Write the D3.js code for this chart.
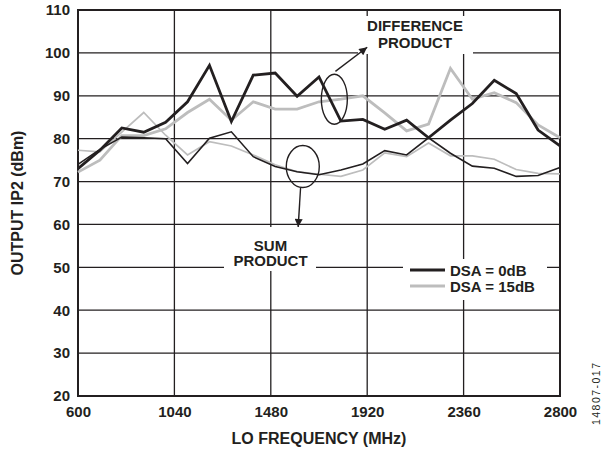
<!DOCTYPE html>
<html>
<head>
<meta charset="utf-8">
<script src="https://cdn.jsdelivr.net/npm/d3@7"></script>
<style>
  body { margin: 0; background: #fff; }
  svg text { font-family: "Liberation Sans", Arial, sans-serif; font-weight: bold; fill: #231f20; }
</style>
</head>
<body>
<svg id="chart"></svg>
<script>
// LO frequency (MHz), one point every 100 MHz
const freqs = [600, 700, 800, 900, 1000, 1100, 1200, 1300, 1400, 1500, 1600, 1700,
               1800, 1900, 2000, 2100, 2200, 2300, 2400, 2500, 2600, 2700, 2800];

// output IP2 (dBm)
const dsa0Diff  = [73, 77.3, 82.5, 81.5, 83.8, 88.6, 97.1, 84.0, 94.8, 95.3, 89.9, 94.4,
                   84.1, 84.5, 82.2, 84.3, 80.2, 84.3, 88.2, 93.6, 90.5, 82.0, 78.3];
const dsa0Sum   = [74, 77.5, 80.4, 80.2, 80.0, 74.2, 80.1, 81.6, 75.8, 73.5, 72.3, 71.6,
                   72.7, 74.1, 77.2, 76.2, 80.2, 76.6, 73.6, 73.1, 71.2, 71.4, 73.3];
const dsa15Diff = [72.2, 75, 80.7, 80.7, 82.3, 86.1, 89.2, 84.3, 88.6, 86.9, 86.9, 88.6,
                   89.2, 90.0, 86, 81.8, 83.4, 96.4, 89.2, 90.7, 88.4, 83.2, 80.2];
const dsa15Sum  = [77.3, 76.9, 81.5, 86.1, 80.8, 76.2, 79.3, 78.3, 76.2, 73.9, 72.3, 71.7,
                   71.2, 72.7, 76.7, 75.8, 79, 76, 76.0, 75.2, 72.8, 71.9, 71.8];

const xTicks = [600, 1040, 1480, 1920, 2360, 2800];
const yTicks = [20, 30, 40, 50, 60, 70, 80, 90, 100, 110];

const width = 603, height = 450;
const margin = { top: 10, right: 43, bottom: 54, left: 78 };
const black = "#231f20", gray = "#bdbdbd";

const svg = d3.select("#chart").attr("width", width).attr("height", height);

const x = d3.scaleLinear().domain([600, 2800]).range([margin.left, width - margin.right]);
const y = d3.scaleLinear().domain([20, 110]).range([height - margin.bottom, margin.top]);

// grid
svg.append("g")
   .selectAll("line.h")
   .data(yTicks.slice(1, -1))
   .join("line")
   .attr("x1", x(600)).attr("x2", x(2800))
   .attr("y1", d => y(d)).attr("y2", d => y(d))
   .attr("stroke", black).attr("stroke-width", 1.3);

svg.append("g")
   .selectAll("line.v")
   .data(xTicks.slice(1, -1))
   .join("line")
   .attr("x1", d => x(d)).attr("x2", d => x(d))
   .attr("y1", y(110)).attr("y2", y(20))
   .attr("stroke", black).attr("stroke-width", 1.3);

// white boxes behind the labels
const boxes = [
  { x: 358, y: 16, w: 115, h: 38 },   // difference product
  { x: 224, y: 227, w: 92, h: 44 },   // sum product
  { x: 403, y: 259, w: 144, h: 41 }   // legend
];
svg.append("g").selectAll("rect")
   .data(boxes)
   .join("rect")
   .attr("x", d => d.x).attr("y", d => d.y)
   .attr("width", d => d.w).attr("height", d => d.h)
   .attr("fill", "#fff");

// border
svg.append("rect")
   .attr("x", x(600)).attr("y", y(110))
   .attr("width", x(2800) - x(600)).attr("height", y(20) - y(110))
   .attr("fill", "none").attr("stroke", black).attr("stroke-width", 2);

// axes (labels only)
const xAxis = svg.append("g")
   .attr("transform", `translate(0, ${y(20)})`)
   .call(d3.axisBottom(x).tickValues(xTicks).tickFormat(d3.format("d")).tickSize(0).tickPadding(10));
xAxis.select(".domain").remove();
xAxis.selectAll("text").style("font-size", "15px").attr("fill", black);

const yAxis = svg.append("g")
   .attr("transform", `translate(${x(600)}, 0)`)
   .call(d3.axisLeft(y).tickValues(yTicks).tickFormat(d3.format("d")).tickSize(0).tickPadding(8));
yAxis.select(".domain").remove();
yAxis.selectAll("text").style("font-size", "15px").attr("fill", black);

// series
const line = d3.line().x((d, i) => x(freqs[i])).y(d => y(d));
const series = [
  { values: dsa15Sum,  color: gray,  w: 1.7 },
  { values: dsa15Diff, color: gray,  w: 2.8 },
  { values: dsa0Sum,   color: black, w: 1.6 },
  { values: dsa0Diff,  color: black, w: 2.8 }
];
svg.append("g").selectAll("path")
   .data(series)
   .join("path")
   .attr("d", d => line(d.values))
   .attr("fill", "none")
   .attr("stroke", d => d.color)
   .attr("stroke-width", d => d.w)
   .attr("stroke-linejoin", "miter");

// arrow marker
svg.append("defs").append("marker")
   .attr("id", "arrow")
   .attr("viewBox", "0 0 10 10")
   .attr("refX", 10).attr("refY", 5)
   .attr("markerWidth", 11).attr("markerHeight", 8)
   .attr("markerUnits", "userSpaceOnUse")
   .attr("orient", "auto")
   .append("path").attr("d", "M0,0 L10,5 L0,10 Z").attr("fill", black);

// difference product callout
svg.append("ellipse")
   .attr("cx", x(1770)).attr("cy", y(89.2)).attr("rx", 13).attr("ry", 25)
   .attr("fill", "none").attr("stroke", black).attr("stroke-width", 1.4);
svg.append("line")
   .attr("x1", x(1775)).attr("y1", y(95.7)).attr("x2", x(1920)).attr("y2", y(101.3))
   .attr("stroke", black).attr("stroke-width", 1.4).attr("marker-end", "url(#arrow)");

// sum product callout
svg.append("ellipse")
   .attr("cx", x(1626)).attr("cy", y(73.5)).attr("rx", 16.5).attr("ry", 21)
   .attr("fill", "none").attr("stroke", black).attr("stroke-width", 1.4);
svg.append("line")
   .attr("x1", x(1616)).attr("y1", y(68.6)).attr("x2", x(1605)).attr("y2", y(59.4))
   .attr("stroke", black).attr("stroke-width", 1.4).attr("marker-end", "url(#arrow)");

const callouts = [
  { text: "DIFFERENCE", x: 415, y: 31 },
  { text: "PRODUCT", x: 415, y: 48 },
  { text: "SUM", x: 270.5, y: 250.5 },
  { text: "PRODUCT", x: 270.5, y: 266 }
];
svg.append("g").selectAll("text")
   .data(callouts)
   .join("text")
   .attr("x", d => d.x).attr("y", d => d.y)
   .attr("text-anchor", "middle")
   .style("font-size", "15px")
   .text(d => d.text);

// legend
const legend = [
  { label: "DSA = 0dB", color: black },
  { label: "DSA = 15dB", color: gray }
];
const lg = svg.append("g").attr("transform", "translate(410, 270)");
lg.selectAll("line")
  .data(legend)
  .join("line")
  .attr("x1", 0).attr("x2", 35)
  .attr("y1", (d, i) => i * 16).attr("y2", (d, i) => i * 16)
  .attr("stroke", d => d.color).attr("stroke-width", 3);
lg.selectAll("text")
  .data(legend)
  .join("text")
  .attr("x", 40).attr("y", (d, i) => i * 16 + 5.5)
  .style("font-size", "15px")
  .text(d => d.label);

// axis titles
svg.append("text")
   .attr("x", (x(600) + x(2800)) / 2).attr("y", 444)
   .attr("text-anchor", "middle")
   .style("font-size", "16px")
   .text("LO FREQUENCY (MHz)");

svg.append("text")
   .attr("transform", `translate(23, ${(y(20) + y(110)) / 2}) rotate(-90)`)
   .attr("text-anchor", "middle")
   .style("font-size", "16px")
   .text("OUTPUT IP2 (dBm)");

// figure id
svg.append("text")
   .attr("transform", "translate(600, 394) rotate(-90)")
   .attr("text-anchor", "middle")
   .attr("textLength", 62)
   .style("font-size", "10.5px")
   .style("font-weight", "normal")
   .text("14807-017");
</script>
</body>
</html>
